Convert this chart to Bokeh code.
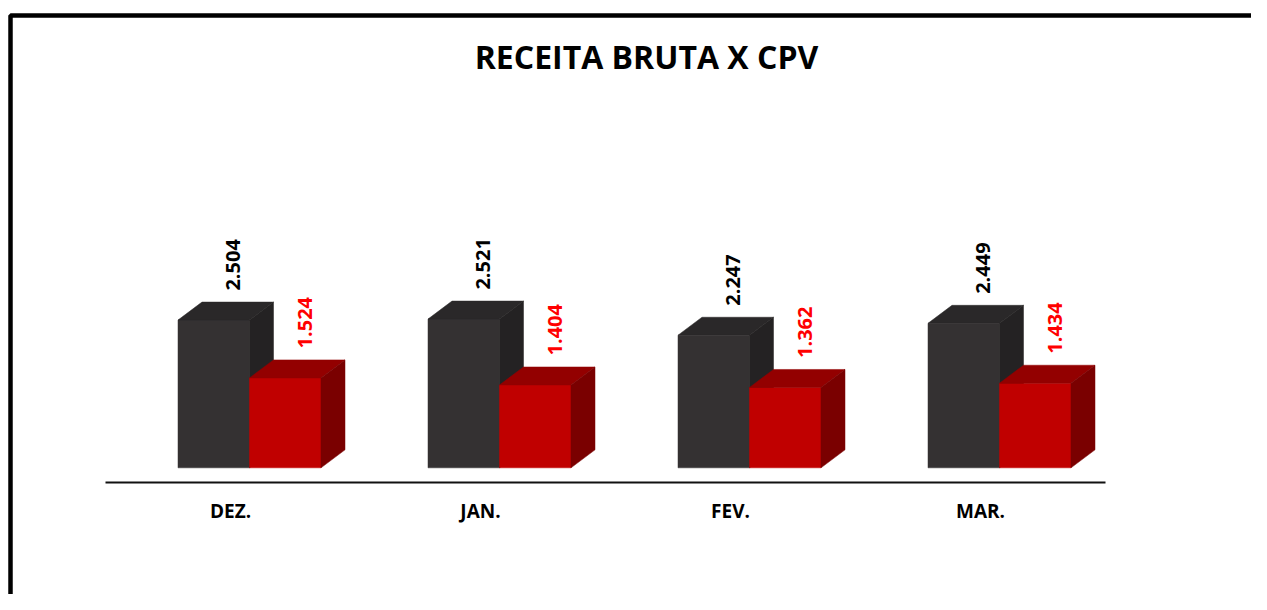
import math
from bokeh.plotting import figure
from bokeh.models import Range1d
from bokeh.core.properties import value
from bokeh.embed import file_html
from bokeh.resources import INLINE

# ---- data ----
months = ["DEZ.", "JAN.", "FEV.", "MAR."]
receita = [2.504, 2.521, 2.247, 2.449]
cpv = [1.524, 1.404, 1.362, 1.434]
receita_labels = ["2.504", "2.521", "2.247", "2.449"]
cpv_labels = ["1.524", "1.404", "1.362", "1.434"]
title_text = "RECEITA BRUTA X CPV"

# ---- style / geometry ----
W, H = 1251, 594
BAR_W = 0.286      # bar width in category units
DX = 0.096         # 3D depth, x
DY = 0.305         # 3D depth, y (value units)
FONT = value("Open Sans")

dark = dict(front="#343132", top="#2a2829", side="#242223")
red = dict(front="#C00000", top="#930000", side="#7a0000")

p = figure(width=W, height=H,
           x_range=Range1d(-0.996, 4.008), y_range=Range1d(-2.147, 7.920),
           output_backend="svg", toolbar_location=None, min_border=0,
           x_axis_location=None, y_axis_location=None)
p.grid.visible = False
p.outline_line_color = None
p.background_fill_color = "white"
p.border_fill_color = "white"


def bar_polys(lefts, rights, vals):
    fx, fy, tx, ty, sx, sy = [], [], [], [], [], []
    for l, r, v in zip(lefts, rights, vals):
        fx.append([l, r, r, l]); fy.append([0, 0, v, v])
        tx.append([l, l + DX, r + DX, r]); ty.append([v, v + DY, v + DY, v])
        sx.append([r, r, r + DX, r + DX]); sy.append([0, v, v + DY, DY])
    return (fx, fy), (tx, ty), (sx, sy)


idx = list(range(len(months)))
series = [
    ([i - BAR_W for i in idx], [i for i in idx], receita, dark),
    ([i for i in idx], [i + BAR_W for i in idx], cpv, red),
]
for lefts, rights, vals, col in series:
    (fx, fy), (tx, ty), (sx, sy) = bar_polys(lefts, rights, vals)
    p.patches(fx, fy, fill_color=col["front"], line_color=col["front"], line_width=0.5)
    p.patches(tx, ty, fill_color=col["top"], line_color=col["top"], line_width=0.5)
    p.patches(sx, sy, fill_color=col["side"], line_color=col["side"], line_width=0.5)

# baseline
p.line([-0.576, 3.424], [-0.249, -0.249], line_width=2, line_color="#111111")

# frame
p.quad(left=[-0.956], right=[6.0], top=[7.666], bottom=[-4.0],
       fill_color=None, line_color="black", line_width=4.5)

# value labels
p.text(x=[i - BAR_W + 0.220 for i in idx], y=[v + 0.50 for v in receita],
       text=receita_labels, angle=math.pi / 2, text_align="left",
       text_baseline="alphabetic", text_font=FONT, text_font_style="bold",
       text_font_size="20px", text_color="black")
p.text(x=[i + 0.220 for i in idx], y=[v + 0.50 for v in cpv],
       text=cpv_labels, angle=math.pi / 2, text_align="left",
       text_baseline="alphabetic", text_font=FONT, text_font_style="bold",
       text_font_size="20px", text_color="#FF0000")

# category labels
p.text(x=[i - 0.076 for i in idx], y=[-0.740] * len(idx), text=months,
       text_align="center", text_baseline="alphabetic", text_font=FONT,
       text_font_style="bold", text_font_size="19px", text_color="black")

# title
p.text(x=[1.588], y=[6.963], text=[title_text], text_align="center",
       text_baseline="alphabetic", text_font=FONT, text_font_style="bold",
       text_font_size="32px", text_color="black")

open("out.html", "w").write(file_html(p, INLINE))
